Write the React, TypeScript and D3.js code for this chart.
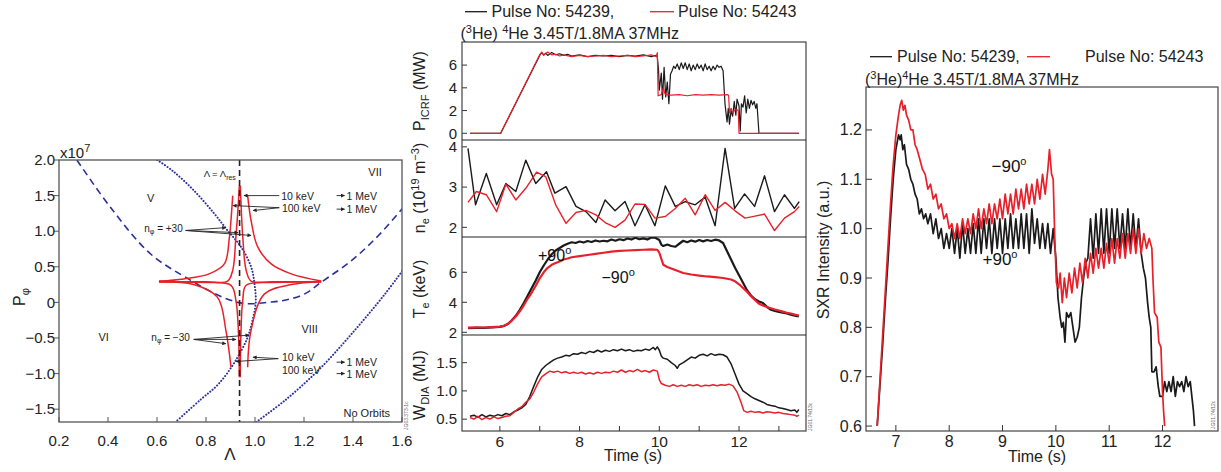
import React from "react";
import * as d3 from "d3";

type Pt = [number, number];

const FONT = "'Liberation Sans', Arial, Helvetica, sans-serif";
const BLACK = "#1a1a1a";
const RED = "#e8202a";
const BLUE = "#2a2f9c";
const FRAME = "#555";

// ---------------- Left panel: orbit topology (Lambda, P_phi) ----------------
const lambdaDomain: [number, number] = [0.2, 1.6];
const pPhiDomain: [number, number] = [-1.68, 2.0];
const lambdaTicks = [0.2, 0.4, 0.6, 0.8, 1.0, 1.2, 1.4, 1.6];
const pPhiTicks = [2.0, 1.5, 1.0, 0.5, 0, -0.5, -1.0, -1.5];
const lambdaRes = 0.937;

const dashedBoundary: Pt[] = [
  [0.273, 2.0], [0.409, 1.34], [0.574, 0.68], [0.738, 0.31], [0.85, 0.1], [0.93, 0.0],
  [0.984, -0.02], [1.05, 0.0], [1.121, 0.03], [1.203, 0.12], [1.271, 0.285], [1.395, 0.59],
  [1.504, 0.94], [1.607, 1.34],
];
const dottedBoundaryA: Pt[] = [
  [0.601, 2.0], [0.663, 1.85], [0.751, 1.57], [0.833, 1.25], [0.888, 1.01], [0.943, 0.78],
  [0.984, 0.5], [0.998, 0.26], [1.003, 0.0], [0.99, -0.25], [0.97, -0.49], [0.915, -0.85],
  [0.85, -1.15], [0.78, -1.36], [0.676, -1.68],
];
const dottedBoundaryB: Pt[] = [
  [1.005, -1.68], [1.121, -1.38], [1.258, -0.955], [1.395, -0.44], [1.531, 0.12], [1.607, 0.47],
];

// orbits n_phi = +/-30 (100 keV outer, 10 keV inner)
const orbitOuterUL: Pt[] = [[0.608, 0.30], [0.71, 0.33], [0.813, 0.40], [0.875, 0.54], [0.895, 0.9], [0.903, 1.2], [0.909, 1.50]];
const orbitOuterUR: Pt[] = [[1.27, 0.30], [1.148, 0.40], [1.066, 0.54], [1.011, 0.78], [0.984, 1.15], [0.97, 1.50]];
const orbitOuterLL: Pt[] = [[0.608, 0.29], [0.75, 0.25], [0.847, 0.07], [0.881, -0.39], [0.902, -0.91]];
const orbitOuterLR: Pt[] = [[1.27, 0.29], [1.148, 0.25], [1.039, 0.12], [0.984, -0.39], [0.97, -0.91]];
const orbitInnerUL: Pt[] = [[0.608, 0.295], [0.8, 0.29], [0.888, 0.30], [0.909, 0.45], [0.922, 0.92], [0.932, 1.39], [0.936, 1.64]];
const orbitInnerUR: Pt[] = [[1.27, 0.295], [1.07, 0.29], [0.984, 0.30], [0.964, 0.45], [0.95, 0.92], [0.943, 1.39], [0.94, 1.64]];
const orbitInnerLL: Pt[] = [[0.608, 0.285], [0.8, 0.28], [0.902, 0.24], [0.922, 0.03], [0.932, -0.39], [0.936, -1.05]];
const orbitInnerLR: Pt[] = [[1.27, 0.285], [1.07, 0.28], [0.964, 0.24], [0.95, 0.03], [0.943, -0.39], [0.94, -1.05]];
const orbits = [orbitOuterUL, orbitOuterUR, orbitOuterLL, orbitOuterLR, orbitInnerUL, orbitInnerUR, orbitInnerLL, orbitInnerLR];

const regionLabels: { text: string; at: Pt }[] = [
  { text: "V", at: [0.574, 1.46] },
  { text: "VII", at: [1.49, 1.83] },
  { text: "VI", at: [0.382, -0.49] },
  { text: "VIII", at: [1.223, -0.37] },
  { text: "No Orbits", at: [1.456, -1.56] },
];
const energyLabels: { text: string; at: Pt }[] = [
  { text: "10 keV", at: [1.107, 1.50] },
  { text: "100 keV", at: [1.11, 1.33] },
  { text: "10 keV", at: [1.11, -0.77] },
  { text: "100 keV", at: [1.11, -0.95] },
];
const mevLabels: Pt[] = [[1.333, 1.50], [1.333, 1.31], [1.333, -0.84], [1.333, -1.0]];
const annotArrows: [Pt, Pt][] = [
  [[1.099, 1.50], [0.955, 1.50]],
  [[1.099, 1.33], [0.91, 1.36]],
  [[1.099, 1.33], [0.992, 1.29]],
  [[0.717, 1.01], [0.881, 1.05]],
  [[0.717, 1.01], [0.931, 0.98]],
  [[0.717, 1.01], [0.984, 0.94]],
  [[0.75, -0.52], [0.976, -0.46]],
  [[0.75, -0.52], [0.922, -0.52]],
  [[0.75, -0.52], [0.881, -0.58]],
  [[1.095, -0.79], [0.992, -0.77]],
  [[1.095, -0.79], [0.922, -0.83]],
];

// ---------------- Middle panel: time traces ----------------
const timeDomainMid: [number, number] = [5.05, 13.68];
const timeTicksMid = [6, 7, 8, 9, 10, 11, 12, 13];
const timeLabelsMid = [6, 8, 10, 12];

const picrfTicks = [0, 2, 4, 6];
const neTicks = [2, 3, 4];
const teTicks = [2, 4, 6];
const wdiaTicks = [0.5, 1.0, 1.5];

const picrf54239: Pt[] = [
  [5.25, 0], [6.02, 0], [7.0, 6.85], [7.05, 7.1], [7.1, 6.9], [7.15, 7.05], [7.2, 6.85], [7.3, 7.1], [7.4, 6.9],
  [7.5, 7.0], [7.6, 6.85], [7.7, 6.95], [7.8, 6.8], [8.0, 6.9], [8.2, 6.75], [8.4, 6.85], [8.6, 6.8], [8.8, 6.85],
  [9.0, 6.75], [9.2, 6.85], [9.4, 6.8], [9.6, 6.9], [9.8, 6.75], [9.9, 6.85], [9.95, 6.7], [9.98, 5.6], [10.0, 3.8],
  [10.05, 5.3], [10.08, 3.0], [10.12, 5.8], [10.16, 3.2], [10.2, 4.5], [10.24, 2.6], [10.28, 5.2], [10.32, 5.5],
  [10.36, 5.9], [10.4, 5.7], [10.45, 6.1], [10.5, 5.6], [10.55, 6.2], [10.6, 5.7], [10.65, 6.2], [10.7, 5.6],
  [10.75, 6.1], [10.8, 5.5], [10.85, 6.0], [10.9, 5.6], [10.95, 6.1], [11.0, 5.7], [11.05, 6.0], [11.1, 5.5],
  [11.15, 6.1], [11.2, 5.6], [11.25, 5.9], [11.3, 5.5], [11.35, 5.9], [11.4, 5.6], [11.45, 6.0], [11.5, 5.8],
  [11.55, 5.9], [11.6, 5.5], [11.65, 2.5], [11.7, 1.0], [11.73, 2.2], [11.76, 0.8], [11.8, 2.0], [11.84, 1.5],
  [11.88, 2.8], [11.92, 1.6], [11.95, 3.0], [12.0, 2.4], [12.03, 0.2], [12.06, 2.6], [12.1, 2.3], [12.14, 3.3],
  [12.18, 1.8], [12.22, 3.0], [12.26, 2.2], [12.3, 2.9], [12.34, 2.5], [12.38, 2.8], [12.42, 2.2], [12.45, 2.6],
  [12.5, 0], [13.5, 0],
];
const picrf54243: Pt[] = [
  [5.25, 0], [6.02, 0], [7.0, 6.9], [7.05, 7.15], [7.1, 6.85], [7.2, 7.15], [7.3, 6.9], [7.4, 6.95], [7.5, 6.8],
  [7.6, 6.9], [7.8, 6.75], [8.0, 6.85], [8.2, 6.75], [8.4, 6.8], [8.6, 6.85], [8.8, 6.75], [9.0, 6.8], [9.2, 6.85],
  [9.4, 6.75], [9.6, 6.8], [9.8, 6.9], [9.92, 6.75], [9.95, 7.1], [9.97, 3.3], [10.05, 3.4], [10.1, 4.0],
  [10.15, 3.4], [10.3, 3.35], [10.5, 3.4], [10.7, 3.3], [10.9, 3.4], [11.1, 3.35], [11.3, 3.4], [11.5, 3.35],
  [11.72, 3.4], [11.74, 3.3], [11.76, 1.8], [11.8, 2.2], [11.84, 1.8], [11.88, 2.0], [11.94, 2.1], [11.98, 2.0],
  [12.0, 0], [13.5, 0],
];

const ne54239: Pt[] = [
  [5.2, 3.96], [5.39, 2.56], [5.66, 3.34], [5.92, 2.56], [6.15, 3.09], [6.4, 2.89], [6.65, 3.67], [6.9, 3.09],
  [7.17, 3.38], [7.38, 2.85], [7.66, 3.01], [7.91, 2.52], [8.16, 2.39], [8.41, 2.12], [8.64, 2.68], [8.89, 2.41],
  [9.14, 2.64], [9.39, 2.04], [9.64, 2.56], [9.89, 2.04], [10.15, 3.03], [10.4, 2.52], [10.65, 2.64], [10.9, 2.56],
  [11.15, 2.75], [11.4, 2.04], [11.65, 3.96], [11.89, 2.47], [12.14, 2.83], [12.39, 2.52], [12.64, 3.28],
  [12.89, 2.39], [13.14, 2.81], [13.39, 2.47], [13.51, 2.64],
];
const ne54243: Pt[] = [
  [5.2, 2.62], [5.41, 2.89], [5.66, 2.81], [5.92, 2.39], [6.15, 3.07], [6.4, 2.68], [6.65, 2.97], [6.92, 3.37],
  [7.15, 3.26], [7.4, 2.56], [7.66, 2.1], [7.91, 2.37], [8.16, 2.42], [8.41, 2.31], [8.64, 2.12], [8.89, 2.0],
  [9.14, 2.18], [9.39, 2.58], [9.64, 2.57], [9.89, 2.23], [10.15, 2.27], [10.4, 2.47], [10.65, 2.72], [10.9, 2.31],
  [11.15, 2.81], [11.4, 2.42], [11.65, 2.62], [11.9, 2.41], [12.15, 2.23], [12.4, 2.28], [12.64, 2.33],
  [12.89, 1.92], [13.14, 2.23], [13.39, 2.39], [13.51, 2.52],
];

const te54239: Pt[] = [
  [5.2, 2.27], [5.4, 2.3], [5.6, 2.29], [5.8, 2.33], [6.0, 2.36], [6.1, 2.42], [6.2, 2.55], [6.3, 2.8], [6.4, 3.1],
  [6.5, 3.5], [6.6, 3.95], [6.7, 4.45], [6.8, 4.95], [6.9, 5.45], [7.0, 6.0], [7.1, 6.45], [7.2, 6.85], [7.3, 7.2],
  [7.4, 7.45], [7.5, 7.62], [7.6, 7.78], [7.7, 7.9], [7.8, 8.0], [7.9, 7.95], [8.0, 8.05], [8.1, 7.98], [8.2, 8.08],
  [8.3, 8.02], [8.4, 8.12], [8.5, 8.05], [8.6, 8.1], [8.7, 8.06], [8.8, 8.18], [8.9, 8.1], [9.0, 8.2], [9.1, 8.14],
  [9.2, 8.25], [9.3, 8.18], [9.4, 8.3], [9.5, 8.2], [9.6, 8.26], [9.7, 8.18], [9.8, 8.32], [9.9, 8.3], [10.0, 8.15],
  [10.05, 7.85], [10.1, 7.75], [10.2, 7.85], [10.3, 7.75], [10.4, 7.7], [10.5, 7.9], [10.6, 8.1], [10.7, 8.0],
  [10.8, 8.12], [10.9, 8.04], [11.0, 8.15], [11.1, 8.06], [11.2, 8.15], [11.3, 8.08], [11.4, 8.17], [11.5, 8.12],
  [11.6, 7.95], [11.7, 7.4], [11.8, 6.85], [11.9, 6.3], [12.0, 5.8], [12.1, 5.3], [12.2, 4.8], [12.3, 4.45],
  [12.4, 4.2], [12.5, 4.05], [12.6, 3.95], [12.7, 3.7], [12.8, 3.5], [12.9, 3.42], [13.0, 3.36], [13.1, 3.3],
  [13.2, 3.25], [13.3, 3.18], [13.4, 3.1], [13.5, 3.05],
];
const te54243: Pt[] = [
  [5.2, 2.31], [5.4, 2.33], [5.6, 2.32], [5.8, 2.35], [6.0, 2.38], [6.1, 2.43], [6.2, 2.55], [6.3, 2.78],
  [6.4, 3.05], [6.5, 3.4], [6.6, 3.8], [6.7, 4.25], [6.8, 4.65], [6.9, 5.1], [7.0, 5.6], [7.1, 6.0], [7.2, 6.3],
  [7.3, 6.5], [7.4, 6.62], [7.5, 6.72], [7.6, 6.85], [7.7, 6.92], [7.8, 7.0], [8.0, 7.08], [8.2, 7.15],
  [8.4, 7.22], [8.6, 7.3], [8.8, 7.38], [9.0, 7.42], [9.2, 7.45], [9.4, 7.48], [9.6, 7.5], [9.8, 7.52],
  [9.95, 7.5], [10.0, 7.3], [10.05, 6.9], [10.1, 6.5], [10.2, 6.35], [10.3, 6.25], [10.4, 6.15], [10.5, 6.05],
  [10.6, 5.95], [10.8, 5.85], [11.0, 5.78], [11.2, 5.72], [11.4, 5.68], [11.6, 5.62], [11.8, 5.52], [11.9, 5.4],
  [12.0, 5.2], [12.1, 4.95], [12.2, 4.7], [12.3, 4.4], [12.4, 4.15], [12.5, 3.9], [12.6, 3.78], [12.7, 3.68],
  [12.8, 3.6], [12.9, 3.52], [13.0, 3.45], [13.1, 3.38], [13.2, 3.3], [13.3, 3.25], [13.4, 3.18], [13.5, 3.12],
];

const wdia54239: Pt[] = [
  [5.25, 0.55], [5.35, 0.57], [5.45, 0.53], [5.55, 0.58], [5.65, 0.54], [5.75, 0.57], [5.85, 0.55], [5.95, 0.58],
  [6.05, 0.56], [6.15, 0.6], [6.25, 0.58], [6.35, 0.63], [6.45, 0.66], [6.55, 0.7], [6.65, 0.76], [6.75, 0.9],
  [6.85, 1.08], [6.95, 1.25], [7.05, 1.38], [7.15, 1.45], [7.25, 1.5], [7.35, 1.55], [7.45, 1.58], [7.55, 1.6],
  [7.65, 1.63], [7.75, 1.62], [7.85, 1.66], [7.95, 1.65], [8.05, 1.68], [8.15, 1.66], [8.25, 1.7], [8.35, 1.68],
  [8.45, 1.72], [8.55, 1.69], [8.65, 1.72], [8.75, 1.7], [8.85, 1.73], [8.95, 1.71], [9.05, 1.74], [9.15, 1.71],
  [9.25, 1.73], [9.35, 1.7], [9.45, 1.72], [9.55, 1.71], [9.65, 1.74], [9.75, 1.72], [9.85, 1.77], [9.9, 1.73],
  [9.95, 1.78], [10.0, 1.72], [10.05, 1.62], [10.1, 1.58], [10.2, 1.56], [10.3, 1.5], [10.4, 1.45], [10.45, 1.4],
  [10.5, 1.46], [10.6, 1.5], [10.7, 1.55], [10.8, 1.6], [10.9, 1.58], [11.0, 1.63], [11.1, 1.65], [11.2, 1.62],
  [11.3, 1.66], [11.4, 1.63], [11.5, 1.65], [11.6, 1.64], [11.7, 1.6], [11.8, 1.48], [11.9, 1.3], [12.0, 1.12],
  [12.1, 1.0], [12.2, 0.95], [12.3, 0.9], [12.4, 0.86], [12.5, 0.83], [12.6, 0.8], [12.7, 0.76], [12.8, 0.74],
  [12.9, 0.73], [13.0, 0.7], [13.1, 0.69], [13.2, 0.67], [13.3, 0.65], [13.4, 0.66], [13.45, 0.62], [13.5, 0.67],
];
const wdia54243: Pt[] = [
  [5.25, 0.53], [5.35, 0.5], [5.45, 0.55], [5.55, 0.49], [5.65, 0.53], [5.75, 0.5], [5.85, 0.54], [5.95, 0.51],
  [6.05, 0.53], [6.15, 0.55], [6.25, 0.56], [6.35, 0.62], [6.45, 0.68], [6.55, 0.72], [6.65, 0.8], [6.75, 0.86],
  [6.85, 0.98], [6.95, 1.13], [7.05, 1.25], [7.15, 1.3], [7.25, 1.35], [7.35, 1.33], [7.45, 1.35], [7.55, 1.32],
  [7.65, 1.34], [7.75, 1.31], [7.85, 1.33], [7.95, 1.31], [8.05, 1.33], [8.15, 1.3], [8.25, 1.32], [8.35, 1.3],
  [8.45, 1.33], [8.55, 1.31], [8.65, 1.33], [8.75, 1.32], [8.85, 1.35], [8.95, 1.33], [9.05, 1.37], [9.15, 1.33],
  [9.25, 1.36], [9.35, 1.34], [9.45, 1.38], [9.55, 1.34], [9.65, 1.36], [9.75, 1.33], [9.85, 1.37], [9.95, 1.35],
  [10.0, 1.2], [10.05, 1.13], [10.15, 1.1], [10.25, 1.08], [10.35, 1.11], [10.45, 1.08], [10.55, 1.1], [10.65, 1.08],
  [10.75, 1.11], [10.85, 1.09], [10.95, 1.11], [11.05, 1.08], [11.15, 1.1], [11.25, 1.09], [11.35, 1.11],
  [11.45, 1.09], [11.55, 1.11], [11.65, 1.1], [11.75, 1.12], [11.85, 1.09], [11.95, 0.98], [12.05, 0.8],
  [12.12, 0.65], [12.2, 0.62], [12.3, 0.64], [12.4, 0.62], [12.5, 0.63], [12.6, 0.61], [12.7, 0.63], [12.8, 0.62],
  [12.9, 0.61], [13.0, 0.62], [13.1, 0.6], [13.2, 0.59], [13.3, 0.58], [13.4, 0.57], [13.45, 0.55], [13.5, 0.57],
];

// ---------------- Right panel: SXR intensity ----------------
const timeDomainRight: [number, number] = [6.44, 13.04];
const sxrDomain: [number, number] = [0.59, 1.287];
const timeTicksRight = [7, 8, 9, 10, 11, 12];
const sxrTicks = [0.6, 0.7, 0.8, 0.9, 1.0, 1.1, 1.2];

const sxr54239: Pt[] = [
  [6.65, 0.6], [6.7, 0.68], [6.75, 0.76], [6.8, 0.85], [6.85, 0.93], [6.9, 1.02], [6.95, 1.1], [7.0, 1.16],
  [7.05, 1.19], [7.08, 1.18], [7.1, 1.19], [7.13, 1.16], [7.16, 1.17], [7.2, 1.13], [7.24, 1.12], [7.28, 1.1],
  [7.32, 1.09], [7.36, 1.07], [7.4, 1.06], [7.44, 1.03], [7.48, 1.04], [7.52, 1.02], [7.56, 1.03], [7.6, 1.01],
  [7.65, 1.03], [7.7, 0.99], [7.75, 1.02], [7.8, 0.98], [7.85, 1.0], [7.9, 0.96], [7.95, 0.99], [8.0, 0.96],
  [8.05, 1.0], [8.1, 0.95], [8.15, 1.0], [8.2, 0.94], [8.25, 1.01], [8.3, 0.95], [8.35, 1.0], [8.4, 0.95],
  [8.45, 1.01], [8.5, 0.95], [8.55, 1.02], [8.6, 0.95], [8.65, 1.02], [8.7, 0.96], [8.75, 1.02], [8.8, 0.95],
  [8.85, 1.02], [8.9, 0.96], [8.95, 1.02], [9.0, 0.95], [9.05, 1.02], [9.1, 0.96], [9.15, 1.03], [9.2, 0.96],
  [9.25, 1.02], [9.3, 0.96], [9.35, 1.03], [9.4, 0.96], [9.45, 1.03], [9.5, 0.95], [9.55, 1.04], [9.6, 0.97],
  [9.65, 1.02], [9.7, 0.96], [9.75, 1.01], [9.8, 0.96], [9.85, 1.01], [9.9, 0.95], [9.95, 1.0], [10.0, 0.94],
  [10.04, 0.86], [10.08, 0.82], [10.11, 0.8], [10.14, 0.81], [10.17, 0.77], [10.2, 0.83], [10.24, 0.82],
  [10.28, 0.83], [10.32, 0.8], [10.36, 0.77], [10.4, 0.78], [10.44, 0.8], [10.48, 0.86], [10.52, 0.9],
  [10.56, 0.93], [10.6, 0.94], [10.65, 1.02], [10.7, 0.94], [10.75, 1.03], [10.8, 0.95], [10.85, 1.04],
  [10.9, 0.95], [10.95, 1.04], [11.0, 0.95], [11.05, 1.04], [11.1, 0.96], [11.15, 1.04], [11.2, 0.96],
  [11.25, 1.03], [11.3, 0.96], [11.35, 1.04], [11.4, 0.96], [11.45, 1.03], [11.5, 0.96], [11.55, 1.02],
  [11.6, 0.95], [11.64, 0.92], [11.68, 0.9], [11.72, 0.85], [11.75, 0.82], [11.78, 0.8], [11.8, 0.71],
  [11.84, 0.71], [11.88, 0.72], [11.92, 0.68], [11.95, 0.66], [12.0, 0.66], [12.04, 0.69], [12.08, 0.67],
  [12.12, 0.69], [12.16, 0.67], [12.2, 0.7], [12.24, 0.66], [12.28, 0.69], [12.32, 0.68], [12.36, 0.69],
  [12.4, 0.67], [12.44, 0.7], [12.48, 0.68], [12.52, 0.69], [12.56, 0.65], [12.58, 0.63], [12.6, 0.6],
];
const sxr54243: Pt[] = [
  [6.65, 0.6], [6.7, 0.69], [6.75, 0.78], [6.8, 0.87], [6.85, 0.96], [6.9, 1.05], [6.95, 1.13], [7.0, 1.19],
  [7.05, 1.23], [7.08, 1.25], [7.11, 1.26], [7.14, 1.24], [7.17, 1.25], [7.2, 1.23], [7.24, 1.22], [7.28, 1.2],
  [7.32, 1.2], [7.36, 1.17], [7.4, 1.16], [7.45, 1.14], [7.5, 1.12], [7.55, 1.11], [7.6, 1.08], [7.65, 1.09],
  [7.7, 1.06], [7.75, 1.07], [7.8, 1.04], [7.85, 1.05], [7.9, 1.02], [7.95, 1.03], [8.0, 1.0], [8.05, 1.01],
  [8.1, 0.98], [8.15, 1.01], [8.2, 0.98], [8.25, 1.02], [8.3, 0.99], [8.35, 1.02], [8.4, 0.99], [8.45, 1.03],
  [8.5, 1.0], [8.55, 1.04], [8.6, 1.0], [8.65, 1.04], [8.7, 1.01], [8.75, 1.05], [8.8, 1.01], [8.85, 1.05],
  [8.9, 1.02], [8.95, 1.06], [9.0, 1.02], [9.05, 1.07], [9.1, 1.03], [9.15, 1.07], [9.2, 1.03], [9.25, 1.08],
  [9.3, 1.04], [9.35, 1.08], [9.4, 1.04], [9.45, 1.09], [9.5, 1.05], [9.55, 1.09], [9.6, 1.05], [9.65, 1.1],
  [9.7, 1.06], [9.75, 1.11], [9.8, 1.07], [9.85, 1.12], [9.88, 1.16], [9.92, 1.11], [9.95, 1.1], [9.98, 0.98],
  [10.01, 0.89], [10.05, 0.88], [10.08, 0.91], [10.12, 0.85], [10.16, 0.9], [10.2, 0.86], [10.25, 0.91],
  [10.3, 0.87], [10.35, 0.92], [10.4, 0.88], [10.45, 0.93], [10.5, 0.89], [10.55, 0.94], [10.6, 0.9],
  [10.65, 0.95], [10.7, 0.91], [10.75, 0.96], [10.8, 0.92], [10.85, 0.96], [10.9, 0.92], [10.95, 0.97],
  [11.0, 0.93], [11.05, 0.98], [11.1, 0.93], [11.15, 0.98], [11.2, 0.94], [11.25, 0.99], [11.3, 0.94],
  [11.35, 0.99], [11.4, 0.95], [11.45, 1.0], [11.5, 0.95], [11.55, 1.0], [11.6, 0.95], [11.65, 0.99],
  [11.7, 0.96], [11.75, 0.98], [11.8, 0.96], [11.82, 0.9], [11.85, 0.83], [11.9, 0.82], [11.93, 0.77],
  [11.97, 0.76], [12.0, 0.67], [12.02, 0.63], [12.04, 0.6],
];

// ---------------- helpers ----------------
function Frame({ x0, y0, x1, y1 }: { x0: number; y0: number; x1: number; y1: number }) {
  return <rect x={x0} y={y0} width={x1 - x0} height={y1 - y0} fill="none" stroke={FRAME} strokeWidth={1.3} />;
}

const fmt1 = (v: number) => (v === 0 ? "0" : (v < 0 ? "\u2212" : "") + Math.abs(v).toFixed(1));

function LeftPanel() {
  const X0 = 59, X1 = 402, Y0 = 160, Y1 = 422;
  const x = d3.scaleLinear().domain(lambdaDomain).range([X0, X1]);
  const y = d3.scaleLinear().domain(pPhiDomain).range([Y1, Y0]);
  const smooth = d3.line<Pt>().x((d) => x(d[0])).y((d) => y(d[1])).curve(d3.curveCatmullRom.alpha(0.5));
  return (
    <g>
      <defs>
        <clipPath id="clipLeft">
          <rect x={X0} y={Y0} width={X1 - X0} height={Y1 - Y0} />
        </clipPath>
      </defs>
      <g clipPath="url(#clipLeft)">
        <path d={smooth(dashedBoundary) || ""} fill="none" stroke={BLUE} strokeWidth={1.6} strokeDasharray="7,4.5" />
        <path d={smooth(dottedBoundaryA) || ""} fill="none" stroke={BLUE} strokeWidth={2} strokeDasharray="0.1,3" strokeLinecap="round" />
        <path d={smooth(dottedBoundaryB) || ""} fill="none" stroke={BLUE} strokeWidth={2} strokeDasharray="0.1,3" strokeLinecap="round" />
        {orbits.map((o, i) => (
          <path key={i} d={smooth(o) || ""} fill="none" stroke={RED} strokeWidth={1.5} />
        ))}
        <line x1={x(lambdaRes)} x2={x(lambdaRes)} y1={Y0} y2={Y1} stroke="#222" strokeWidth={1.6} strokeDasharray="6,4" />
      </g>
      <Frame x0={X0} y0={Y0} x1={X1} y1={Y1} />
      {lambdaTicks.map((t) => (
        <g key={t}>
          <line x1={x(t)} x2={x(t)} y1={Y1} y2={Y1 - 5} stroke={FRAME} strokeWidth={1} />
          <text x={x(t)} y={446} fontSize={15} textAnchor="middle" fill="#222">{t.toFixed(1)}</text>
        </g>
      ))}
      {pPhiTicks.map((t) => (
        <g key={t}>
          <line x1={X0} x2={X0 - 5} y1={y(t)} y2={y(t)} stroke={FRAME} strokeWidth={1} />
          <text x={55} y={y(t) + 5.3} fontSize={15} textAnchor="end" fill="#222">{fmt1(t)}</text>
        </g>
      ))}
      <text x={60} y={158} fontSize={15} fill="#222">
        x10<tspan dy={-6} fontSize={11}>7</tspan>
      </text>
      <text transform="translate(25,297) rotate(-90)" fontSize={16} textAnchor="middle" fill="#222">
        P<tspan dy={4} fontSize={11}>φ</tspan>
      </text>
      <text x={230} y={460} fontSize={17} textAnchor="middle" fill="#222">Λ</text>

      <text x={x(0.922)} y={y(1.81) + 3.5} fontSize={9.5} textAnchor="end" fill="#222">
        Λ = Λ<tspan dy={2.5} fontSize={7}>res</tspan>
      </text>
      {regionLabels.map((r, i) => (
        <text key={i} x={x(r.at[0])} y={y(r.at[1]) + 4} fontSize={11} textAnchor="middle" fill="#222">{r.text}</text>
      ))}
      {energyLabels.map((r, i) => (
        <text key={i} x={x(r.at[0])} y={y(r.at[1]) + 4} fontSize={10.5} fill="#222">{r.text}</text>
      ))}
      {mevLabels.map((p, i) => (
        <g key={i}>
          <line x1={x(p[0])} x2={x(p[0]) + 8} y1={y(p[1])} y2={y(p[1])} stroke="#222" strokeWidth={0.9} markerEnd="url(#arrowHead)" />
          <text x={x(p[0]) + 10} y={y(p[1]) + 4} fontSize={10.5} fill="#222">1 MeV</text>
        </g>
      ))}
      <text x={x(0.705)} y={y(1.04) + 3.5} fontSize={10} textAnchor="end" fill="#222">
        n<tspan dy={2.5} fontSize={7}>φ</tspan><tspan dy={-2.5}> = +30</tspan>
      </text>
      <text x={x(0.734)} y={y(-0.49) + 3.5} fontSize={10} textAnchor="end" fill="#222">
        n<tspan dy={2.5} fontSize={7}>φ</tspan><tspan dy={-2.5}> = −30</tspan>
      </text>
      {annotArrows.map(([a, b], i) => (
        <line key={i} x1={x(a[0])} y1={y(a[1])} x2={x(b[0])} y2={y(b[1])} stroke="#222" strokeWidth={0.9} markerEnd="url(#arrowHead)" />
      ))}
      <text transform="translate(407.5,430) rotate(-90)" fontSize={5} fill="#666">JG03.373-1c</text>
    </g>
  );
}

type Panel = {
  y0: number;
  y1: number;
  domain: [number, number];
  ticks: number[];
  fmt: (v: number) => string;
  black: Pt[];
  red: Pt[];
  width: number;
};

function MiddlePanel() {
  const X0 = 462, X1 = 806;
  const x = d3.scaleLinear().domain(timeDomainMid).range([X0, X1]);
  const panels: Panel[] = [
    { y0: 42, y1: 140, domain: [-0.59, 8.03], ticks: picrfTicks, fmt: (v) => String(v), black: picrf54239, red: picrf54243, width: 1.2 },
    { y0: 140, y1: 237, domain: [1.76, 4.17], ticks: neTicks, fmt: (v) => String(v), black: ne54239, red: ne54243, width: 1.4 },
    { y0: 237, y1: 335, domain: [1.82, 8.35], ticks: teTicks, fmt: (v) => String(v), black: te54239, red: te54243, width: 2.2 },
    { y0: 335, y1: 431, domain: [0.29, 1.99], ticks: wdiaTicks, fmt: (v) => v.toFixed(1), black: wdia54239, red: wdia54243, width: 1.5 },
  ];
  return (
    <g>
      {panels.map((p, i) => {
        const y = d3.scaleLinear().domain(p.domain).range([p.y1, p.y0]);
        const line = d3.line<Pt>().x((d) => x(d[0])).y((d) => y(d[1]));
        return (
          <g key={i}>
            <defs>
              <clipPath id={`clipMid${i}`}>
                <rect x={X0} y={p.y0} width={X1 - X0} height={p.y1 - p.y0} />
              </clipPath>
            </defs>
            <g clipPath={`url(#clipMid${i})`}>
              <path d={line(p.black) || ""} fill="none" stroke={BLACK} strokeWidth={p.width} strokeLinejoin="round" />
              <path d={line(p.red) || ""} fill="none" stroke={RED} strokeWidth={p.width} strokeLinejoin="round" />
            </g>
            {p.ticks.map((t) => (
              <g key={t}>
                <line x1={X0} x2={X0 + 5} y1={y(t)} y2={y(t)} stroke="#333" strokeWidth={1} />
                <text x={457} y={y(t) + 5.3} fontSize={15} textAnchor="end" fill="#222">{p.fmt(t)}</text>
              </g>
            ))}
          </g>
        );
      })}
      <rect x={X0} y={42} width={X1 - X0} height={431 - 42} fill="none" stroke="#444" strokeWidth={1.2} />
      {[140, 237, 335].map((yy) => (
        <line key={yy} x1={X0} x2={X1} y1={yy} y2={yy} stroke="#222" strokeWidth={1.2} />
      ))}
      {timeTicksMid.map((t) => (
        <line key={t} x1={x(t)} x2={x(t)} y1={431} y2={426} stroke="#333" strokeWidth={1} />
      ))}
      {timeLabelsMid.map((t) => (
        <text key={t} x={x(t)} y={446.5} fontSize={15.5} textAnchor="middle" fill="#222">{t}</text>
      ))}
      <text x={633} y={461} fontSize={16} textAnchor="middle" fill="#222">Time (s)</text>

      {/* y labels */}
      <text transform="translate(425,91) rotate(-90)" fontSize={16} textAnchor="middle" fill="#222">
        P<tspan dy={4} fontSize={11}>ICRF</tspan><tspan dy={-4}> (MW)</tspan>
      </text>
      <text transform="translate(425,188) rotate(-90)" fontSize={16} textAnchor="middle" fill="#222">
        n<tspan dy={4} fontSize={11}>e</tspan><tspan dy={-4}> (10</tspan><tspan dy={-6} fontSize={11}>19</tspan>
        <tspan dy={6}> m</tspan><tspan dy={-6} fontSize={11}>−3</tspan><tspan dy={6}>)</tspan>
      </text>
      <text transform="translate(425,289) rotate(-90)" fontSize={16} textAnchor="middle" fill="#222">
        T<tspan dy={4} fontSize={11}>e</tspan><tspan dy={-4}> (keV)</tspan>
      </text>
      <text transform="translate(425,385) rotate(-90)" fontSize={16} textAnchor="middle" fill="#222">
        W<tspan dy={4} fontSize={11}>DIA</tspan><tspan dy={-4}> (MJ)</tspan>
      </text>

      {/* legend */}
      <line x1={465} x2={487} y1={11.7} y2={11.7} stroke={BLACK} strokeWidth={1.3} />
      <text x={491.5} y={17.4} fontSize={16} fill="#222">Pulse No: 54239,</text>
      <line x1={650} x2={674} y1={11.7} y2={11.7} stroke={RED} strokeWidth={1.3} />
      <text x={678} y={17.4} fontSize={16} fill="#222">Pulse No: 54243</text>
      <text x={460.5} y={39} fontSize={16} fill="#222">
        (<tspan dy={-6} fontSize={11}>3</tspan><tspan dy={6}>He) </tspan><tspan dy={-6} fontSize={11}>4</tspan>
        <tspan dy={6}>He 3.45T/1.8MA 37MHz</tspan>
      </text>

      {/* angle labels */}
      <text x={538} y={261} fontSize={16} fill="#111">
        +90<tspan dy={-7} fontSize={11}>o</tspan>
      </text>
      <text x={601.5} y={282.5} fontSize={16} fill="#111">
        −90<tspan dy={-7} fontSize={11}>o</tspan>
      </text>
      <text transform="translate(812,431) rotate(-90)" fontSize={5} fill="#666">JG01.74/13c</text>
    </g>
  );
}

function RightPanel() {
  const X0 = 866, X1 = 1218, Y0 = 87, Y1 = 431;
  const x = d3.scaleLinear().domain(timeDomainRight).range([X0, X1]);
  const y = d3.scaleLinear().domain(sxrDomain).range([Y1, Y0]);
  const line = d3.line<Pt>().x((d) => x(d[0])).y((d) => y(d[1]));
  return (
    <g>
      <defs>
        <clipPath id="clipRight">
          <rect x={X0} y={Y0} width={X1 - X0} height={Y1 - Y0} />
        </clipPath>
      </defs>
      <g clipPath="url(#clipRight)">
        <path d={line(sxr54239) || ""} fill="none" stroke={BLACK} strokeWidth={1.7} strokeLinejoin="round" />
        <path d={line(sxr54243) || ""} fill="none" stroke={RED} strokeWidth={1.7} strokeLinejoin="round" />
      </g>
      <rect x={X0} y={Y0} width={X1 - X0} height={Y1 - Y0} fill="none" stroke="#444" strokeWidth={1.2} />
      {timeTicksRight.map((t) => (
        <g key={t}>
          <line x1={x(t)} x2={x(t)} y1={Y1} y2={Y1 - 6} stroke="#333" strokeWidth={1} />
          <text x={x(t)} y={446.5} fontSize={16} textAnchor="middle" fill="#222">{t}</text>
        </g>
      ))}
      {sxrTicks.map((t) => (
        <g key={t}>
          <line x1={X0} x2={X0 + 6} y1={y(t)} y2={y(t)} stroke="#333" strokeWidth={1} />
          <text x={862} y={y(t) + 5.5} fontSize={16} textAnchor="end" fill="#222">{t.toFixed(1)}</text>
        </g>
      ))}
      <text x={1037} y={462} fontSize={16} textAnchor="middle" fill="#222">Time (s)</text>
      <text transform="translate(829,250) rotate(-90)" fontSize={16} textAnchor="middle" fill="#222">SXR Intensity (a.u.)</text>

      <line x1={870} x2={892} y1={56.7} y2={56.7} stroke={BLACK} strokeWidth={1.3} />
      <text x={897} y={62.4} fontSize={16} fill="#222">Pulse No: 54239,</text>
      <line x1={1027} x2={1050} y1={56.7} y2={56.7} stroke={RED} strokeWidth={1.3} />
      <text x={1085} y={62.4} fontSize={16} fill="#222">Pulse No: 54243</text>
      <text x={865} y={84.7} fontSize={16} fill="#222">
        (<tspan dy={-6} fontSize={11}>3</tspan><tspan dy={6}>He)</tspan><tspan dy={-6} fontSize={11}>4</tspan>
        <tspan dy={6}>He 3.45T/1.8MA 37MHz</tspan>
      </text>

      <text x={991.5} y={171.7} fontSize={17} fill="#111">
        −90<tspan dy={-7} fontSize={11}>o</tspan>
      </text>
      <text x={982.5} y={265} fontSize={17} fill="#111">
        +90<tspan dy={-7} fontSize={11}>o</tspan>
      </text>
      <text transform="translate(1215,429) rotate(-90)" fontSize={5} fill="#666">JG01.74/12c</text>
    </g>
  );
}

export default function App() {
  return (
    <div style={{ position: "absolute", left: 0, top: 0 }}>
      <svg width={1221} height={472} style={{ display: "block", background: "#fff" }} fontFamily={FONT}>
        <defs>
          <marker id="arrowHead" viewBox="0 0 10 10" refX="9" refY="5" markerWidth="5" markerHeight="4"
            markerUnits="userSpaceOnUse" orient="auto">
            <path d="M0,0 L10,5 L0,10 z" fill="#222" />
          </marker>
        </defs>
        <rect x={0} y={0} width={1221} height={472} fill="#fff" />
        <LeftPanel />
        <MiddlePanel />
        <RightPanel />
      </svg>
    </div>
  );
}
